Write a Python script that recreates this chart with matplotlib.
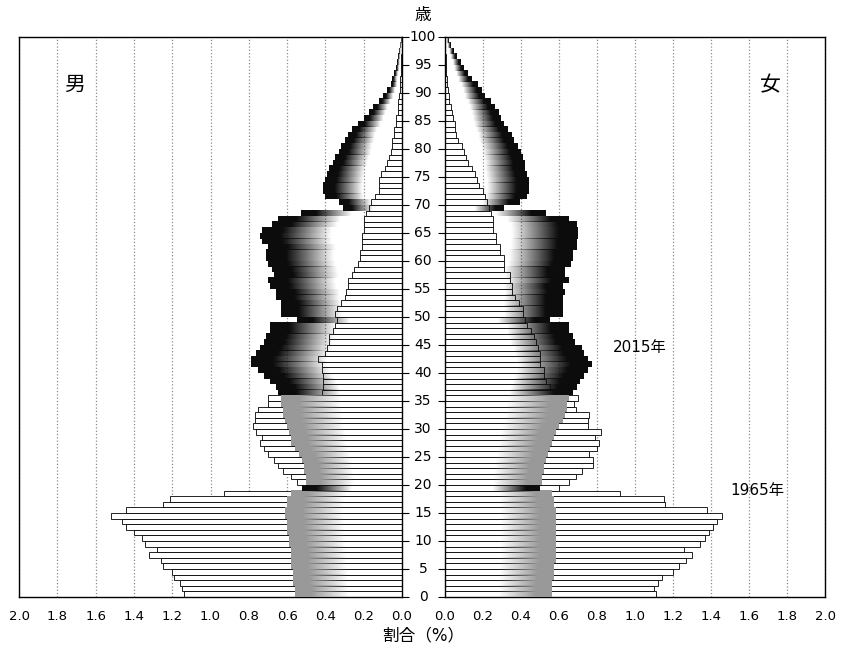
import numpy as np
import matplotlib
matplotlib.use('Agg')
import matplotlib.pyplot as plt
from matplotlib import transforms

plt.rcParams['font.family'] = ['DejaVu Sans', 'Noto Sans CJK JP']

# age classes 0..99, values in percent
ages = np.arange(100)

male_1965 = [1.14, 1.15, 1.16, 1.19, 1.20, 1.25, 1.26, 1.32, 1.28, 1.34,
             1.36, 1.40, 1.44, 1.46, 1.52, 1.44, 1.25, 1.21, 0.93, 0.52,
             0.55, 0.58, 0.62, 0.65, 0.67, 0.70, 0.72, 0.74, 0.73, 0.76,
             0.78, 0.77, 0.77, 0.75, 0.70, 0.70, 0.42, 0.41, 0.41, 0.41,
             0.42, 0.42, 0.44, 0.40, 0.39, 0.38, 0.38, 0.36, 0.35, 0.34,
             0.35, 0.34, 0.32, 0.30, 0.29, 0.28, 0.28, 0.26, 0.25, 0.23,
             0.22, 0.22, 0.21, 0.21, 0.21, 0.20, 0.20, 0.20, 0.19, 0.17,
             0.16, 0.14, 0.12, 0.12, 0.12, 0.11, 0.09, 0.08, 0.07, 0.06,
             0.05, 0.05, 0.04, 0.04, 0.03, 0.03, 0.02, 0.02, 0.02, 0.015,
             0.012, 0.01, 0.008, 0.006, 0.005, 0.004, 0.003, 0.002, 0.002, 0.001]

female_1965 = [1.11, 1.10, 1.12, 1.14, 1.20, 1.23, 1.27, 1.30, 1.26, 1.34,
               1.37, 1.39, 1.41, 1.43, 1.46, 1.38, 1.16, 1.15, 0.92, 0.60,
               0.65, 0.69, 0.72, 0.78, 0.78, 0.76, 0.80, 0.81, 0.79, 0.82,
               0.75, 0.75, 0.76, 0.69, 0.68, 0.70, 0.57, 0.55, 0.53, 0.52,
               0.52, 0.50, 0.50, 0.50, 0.49, 0.48, 0.47, 0.45, 0.43, 0.42,
               0.41, 0.41, 0.39, 0.37, 0.35, 0.35, 0.34, 0.34, 0.31, 0.31,
               0.31, 0.29, 0.29, 0.27, 0.27, 0.25, 0.25, 0.25, 0.24, 0.23,
               0.22, 0.21, 0.20, 0.18, 0.17, 0.16, 0.14, 0.12, 0.11, 0.10,
               0.09, 0.07, 0.06, 0.05, 0.05, 0.04, 0.035, 0.03, 0.02, 0.02,
               0.015, 0.01, 0.01, 0.006, 0.005, 0.004, 0.003, 0.002, 0.002, 0.001]

male_2015 = [0.56, 0.56, 0.57, 0.57, 0.57, 0.58, 0.58, 0.58, 0.58, 0.59,
             0.59, 0.60, 0.60, 0.60, 0.61, 0.61, 0.60, 0.60, 0.58, 0.52,
             0.50, 0.50, 0.51, 0.51, 0.52, 0.54, 0.56, 0.58, 0.58, 0.59,
             0.60, 0.61, 0.62, 0.62, 0.63, 0.63, 0.65, 0.66, 0.69, 0.72,
             0.75, 0.79, 0.79, 0.76, 0.74, 0.72, 0.71, 0.69, 0.69, 0.55,
             0.63, 0.63, 0.63, 0.66, 0.66, 0.69, 0.70, 0.67, 0.68, 0.70,
             0.71, 0.71, 0.70, 0.73, 0.74, 0.73, 0.68, 0.65, 0.53, 0.31,
             0.33, 0.40, 0.41, 0.41, 0.40, 0.39, 0.38, 0.36, 0.35, 0.33,
             0.32, 0.30, 0.28, 0.26, 0.23, 0.20, 0.17, 0.15, 0.12, 0.10,
             0.08, 0.06, 0.05, 0.04, 0.03, 0.025, 0.02, 0.015, 0.01, 0.007]

female_2015 = [0.56, 0.56, 0.56, 0.57, 0.57, 0.57, 0.58, 0.58, 0.58, 0.58,
               0.58, 0.58, 0.58, 0.58, 0.58, 0.58, 0.57, 0.57, 0.56, 0.50,
               0.51, 0.51, 0.52, 0.52, 0.53, 0.54, 0.55, 0.56, 0.57, 0.58,
               0.60, 0.62, 0.63, 0.64, 0.64, 0.65, 0.67, 0.69, 0.71, 0.73,
               0.75, 0.77, 0.75, 0.73, 0.72, 0.68, 0.67, 0.65, 0.65, 0.55,
               0.62, 0.62, 0.62, 0.62, 0.63, 0.62, 0.65, 0.63, 0.63, 0.66,
               0.67, 0.67, 0.69, 0.69, 0.70, 0.70, 0.69, 0.65, 0.53, 0.31,
               0.39, 0.43, 0.44, 0.44, 0.44, 0.43, 0.42, 0.42, 0.41, 0.40,
               0.38, 0.36, 0.35, 0.33, 0.31, 0.29, 0.28, 0.26, 0.24, 0.21,
               0.19, 0.17, 0.14, 0.12, 0.10, 0.08, 0.06, 0.045, 0.03, 0.02]

W, H = 841, 653
fig = plt.figure(figsize=(W/100, H/100), dpi=100)
axL = fig.add_axes([19/W, 56/H, 383/W, 560/H])
axR = fig.add_axes([445/W, 56/H, 380/W, 560/H])


def gradient_bars(ax, vals):
  # 2015: fades from transparent (inner) to grey/black at the bar end
  n = 80
  t = (np.arange(n) + 0.5)/n
  alpha = np.clip((t - 0.5)/0.35, 0, 1)
  for a, v in zip(ages, vals):
    g = 0.05 if (a >= 36 or a == 19) else 0.6
    rgba = np.zeros((1, n, 4))
    rgba[..., :3] = g
    rgba[..., 3] = alpha
    ax.imshow(rgba, extent=(0, v, a, a + 1), aspect='auto',
              interpolation='bilinear', zorder=3)


for ax, v65, v15 in [(axL, male_1965, male_2015), (axR, female_1965, female_2015)]:
  ax.barh(ages + 0.5, v65, height=1.0, color='white', edgecolor='black',
          linewidth=0.6, zorder=2)
  gradient_bars(ax, v15)
  ax.set_ylim(0, 100)
  ax.set_xticks(np.arange(0, 2.01, 0.2))
  ax.set_xticklabels(['%.1f' % x for x in np.arange(0, 2.01, 0.2)], fontsize=9.5)
  ax.tick_params(axis='x', length=0, pad=9)
  ax.set_axisbelow(True)
  ax.grid(axis='x', linestyle=':', color='0.55', linewidth=0.9)
  ax.set_yticks(np.arange(0, 101, 5))
  for s in ax.spines.values():
    s.set_linewidth(1.0)

axL.set_xlim(2.0, 0)
axR.set_xlim(0, 2.0)
axL.yaxis.tick_right()
axL.tick_params(axis='y', direction='out', length=5, labelright=False)
axR.tick_params(axis='y', direction='out', length=5, labelleft=False)

# age labels between the two halves
tr = transforms.blended_transform_factory(fig.transFigure, axL.transData)
for a in range(0, 101, 5):
  axL.text(423/W, a, str(a), transform=tr, ha='center', va='center',
           fontsize=10, clip_on=False)

fig.text(423/W, 1 - 15/H, '歳', ha='center', va='center', fontsize=12)
fig.text(423/W, 1 - 635/H, '割合（%）', ha='center', va='center', fontsize=12)
axL.text(0.146, 0.914, '男', transform=axL.transAxes, ha='center',
         va='center', fontsize=15)
axR.text(0.855, 0.914, '女', transform=axR.transAxes, ha='center',
         va='center', fontsize=15)
axR.text(0.513, 0.446, '2015年', transform=axR.transAxes, ha='center',
         va='center', fontsize=11)
axR.text(0.821, 0.191, '1965年', transform=axR.transAxes, ha='center',
         va='center', fontsize=11)

fig.savefig('out.png', dpi=100)
